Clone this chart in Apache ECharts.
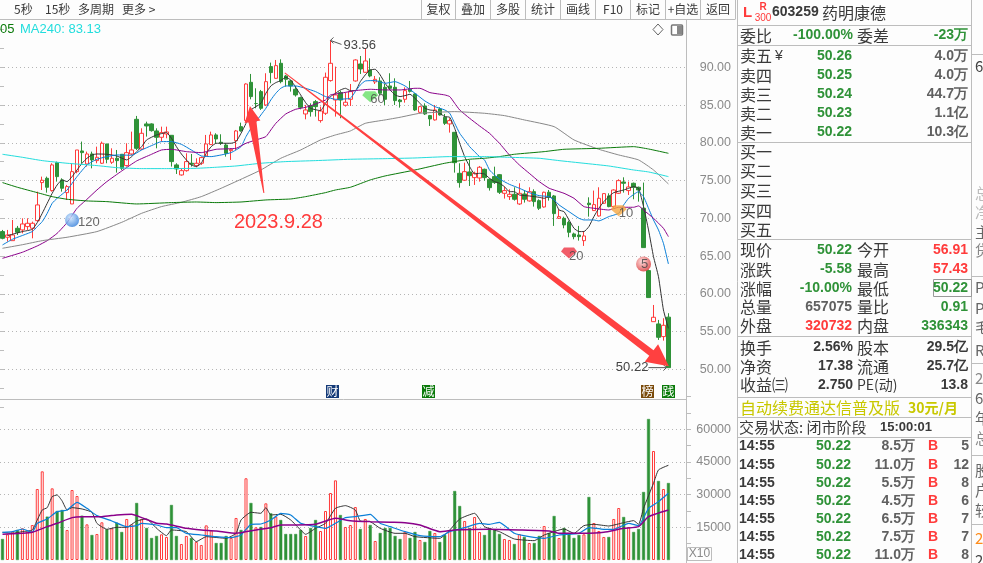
<!DOCTYPE html>
<html>
<head>
<meta charset="utf-8">
<style>
html,body{margin:0;padding:0;background:#fdfdfd;overflow:hidden}
#chart{width:983px;height:563px}
</style>
<script src="https://cdn.jsdelivr.net/npm/echarts@6/dist/echarts.min.js"></script>
</head>
<body>
<div id="chart"></div>
<script>
// K线 [open, close, low, high]
var candles = [
[68.24,67.35,67.22,68.46],[67.49,67.79,66.91,68.46],[67.04,67.79,67.04,69.78],[68.68,68.15,67.79,68.99],[68.46,69.25,68.01,70.0],
[68.90,69.34,68.46,70.0],[68.68,69.34,67.35,69.56],[69.69,71.77,69.56,73.53],[74.73,75.04,73.75,75.52],[75.30,74.11,73.40,75.52],
[73.67,77.07,73.53,77.29],[77.37,75.52,74.86,77.51],[75.08,73.98,73.53,75.30],[73.40,74.20,72.43,74.42],[71.90,76.18,71.90,77.29],
[76.18,79.05,75.96,79.05],[78.92,78.70,77.29,80.16],[77.20,78.52,76.85,78.83],[78.52,77.73,76.62,78.83],[77.64,78.08,77.29,79.49],
[77.29,79.94,77.20,80.16],[79.85,77.82,77.29,79.85],[77.42,77.95,77.20,79.27],[77.95,77.64,76.05,79.05],[78.48,76.62,76.40,78.48],
[76.98,78.70,76.85,79.94],[78.52,79.05,78.39,81.48],[83.11,79.27,79.05,83.56],[79.18,81.26,79.05,81.92],[82.50,82.23,80.82,82.80],
[82.50,81.61,81.48,82.58],[81.57,80.73,79.27,81.92],[80.73,81.35,80.16,82.14],[81.17,81.44,80.60,82.14],[80.99,77.51,76.85,80.99],
[77.07,76.54,75.87,77.29],[75.74,76.31,75.65,76.62],[76.31,77.51,76.18,78.61],[77.29,77.16,76.85,78.52],[76.98,77.29,76.75,77.95],
[77.29,78.04,77.07,78.17],[78.26,79.85,78.17,81.04],[79.76,81.04,79.71,81.48],[81.04,80.51,79.94,81.26],[80.07,79.94,79.71,81.13],
[79.71,78.61,78.17,79.94],[78.96,79.14,77.73,79.27],[80.29,81.57,79.05,81.70],[82.14,81.57,81.48,82.67],[82.94,87.79,82.80,87.88],
[88.01,86.12,85.76,89.12],[85.20,85.20,84.57,87.22],[86.78,84.57,84.35,87.0],[85.01,88.10,84.88,89.21],[90.09,89.30,87.88,90.62],
[88.54,90.22,88.46,90.97],[90.53,88.10,87.88,91.06],[88.85,88.41,87.44,88.99],[88.19,87.53,86.78,88.32],[87.09,86.34,86.12,87.53],
[85.98,84.70,84.44,86.12],[83.82,84.35,83.11,85.01],[84.92,84.13,83.47,85.23],[85.45,84.79,83.47,85.67],[82.94,84.22,82.67,84.79],
[83.91,88.68,83.69,89.30],[88.24,90.53,88.10,93.56],[85.67,86.34,83.47,90.09],[86.65,85.67,83.25,86.91],[84.97,85.37,84.79,86.65],
[85.76,86.78,84.88,87.79],[88.19,90.97,88.10,91.06],[90.44,89.78,89.12,91.50],[89.34,90.84,89.30,92.52],[89.65,88.85,88.68,91.19],
[88.06,88.41,87.79,88.85],[88.19,86.56,86.34,88.68],[87.35,85.76,85.01,87.79],[87.53,87.22,87.0,89.21],[87.35,85.59,85.01,88.54],
[85.67,85.45,84.66,85.81],[85.76,86.91,85.32,87.35],[87.09,86.82,86.65,88.19],[86.47,84.35,84.22,86.56],[84.04,84.79,83.91,84.88],
[84.88,83.82,83.69,85.23],[83.60,83.16,82.23,83.69],[83.03,84.35,82.94,85.01],[84.48,83.69,83.60,84.70],[83.38,82.58,82.36,83.82],
[82.50,82.94,81.35,83.25],[81.39,77.37,76.05,81.39],[75.96,74.73,74.06,77.29],[75.04,76.18,74.95,77.37],[76.14,75.65,74.28,77.73],
[75.39,75.96,74.42,76.18],[75.34,76.76,74.86,76.93],[76.49,75.39,74.99,76.58],[75.17,74.06,73.67,75.26],[75.52,74.73,74.55,76.84],
[75.78,73.45,73.22,75.87],[73.31,73.67,72.61,74.20],[72.87,73.18,72.43,73.84],[73.18,72.52,72.34,74.11],[71.90,73.31,71.77,74.64],
[73.22,72.52,72.08,73.75],[72.30,73.53,72.21,74.11],[73.53,72.21,71.55,73.84],[72.34,71.33,71.10,72.52],[71.50,73.45,71.41,73.53],
[73.45,72.78,72.34,73.75],[72.96,70.62,68.99,73.09],[70.0,70.22,69.91,71.19],[70.0,69.12,68.68,70.22],[69.47,68.15,67.49,69.69],
[67.93,67.57,67.22,68.10],[67.79,67.57,67.04,68.99],[67.04,67.66,66.34,68.32],[72.0,71.81,70.22,72.78],[71.02,71.81,70.97,73.67],
[70.31,72.65,70.22,74.11],[71.99,73.27,71.90,73.31],[72.96,71.55,71.46,73.31],[71.55,73.75,71.33,73.84],[73.31,74.99,73.22,75.17],
[74.81,74.64,73.40,75.43],[73.67,74.15,73.09,74.86],[74.64,74.11,72.52,74.73],[74.11,73.75,72.21,74.20],[71.33,66.12,66.12,74.73],
[63.07,59.50,59.50,63.20],[56.31,56.89,56.31,58.52],[56.01,54.24,53.89,56.54],[54.33,55.83,53.80,56.76],[56.91,50.22,50.22,57.43]
];

// 成交量
var volumes = [
9640,11780,13000,13770,14530,13000,16050,32570,40670,19890,
32870,22480,22940,13770,32110,29360,20340,16360,11470,11930,
17290,14080,14530,17130,12850,18820,16360,26160,18820,14690,
10100,11020,11780,10560,25250,11020,7340,11020,10100,8260,
6890,15900,13620,7800,7800,11020,10100,19280,13770,37490,
26160,15000,15140,25990,21400,19880,18350,11930,11930,11930,
13770,11020,14690,18350,13300,22480,30730,36540,20640,15140,
16050,24310,14220,18820,16050,8720,12390,14690,14690,11020,
9640,13000,10100,12850,9180,8260,13300,12390,8260,11470,
13300,31650,24770,17900,14690,19730,12850,11470,14690,13770,
11930,9640,9180,7340,11930,10560,7800,7800,11020,15600,
12390,20190,10100,14690,12390,10100,11470,11780,28900,16970,
13300,10560,10560,18820,23850,19730,15140,12850,14220,31190,
64680,50000,36240,32570,35320
];

// 均线读点 [第几根K线, 价格]
var ma5 = [[1,67.71],[4,68.24],[6,68.54],[7,69.43],[8,70.66],[9,71.99],[10,73.31],[11,74.42],[12,75.08],[13,74.86],[14,75.52],[15,76.40],[16,77.29],[17,77.95],[18,78.39],[19,78.52],[21,78.48],[23,78.26],[25,77.73],[26,78.17],[27,78.83],[28,79.49],[29,80.38],[31,81.04],[33,81.35],[34,80.60],[35,79.49],[36,78.52],[37,77.73],[38,77.07],[39,76.85],[40,77.29],[41,78.61],[42,79.49],[43,79.94],[46,79.94],[47,80.16],[48,81.26],[49,82.58],[50,84.35],[51,84.79],[52,85.23],[53,86.56],[54,87.53],[55,87.97],[56,88.24],[57,88.68],[58,88.32],[59,87.35],[60,86.34],[61,85.32],[62,84.57],[64,84.26],[65,85.23],[66,86.12],[67,86.56],[68,87.0],[69,87.22],[70,86.91],[71,86.91],[72,88.10],[73,88.99],[74,89.65],[75,89.74],[76,88.99],[77,87.88],[78,87.0],[79,86.34],[80,86.12],[81,86.25],[82,86.43],[83,85.90],[84,85.23],[85,84.57],[86,84.35],[87,84.26],[88,83.91],[89,83.47],[90,83.38],[91,81.92],[92,79.94],[93,78.17],[94,76.85],[95,75.87],[96,75.96],[97,75.87],[98,75.30],[99,74.86],[100,74.64],[101,74.20],[102,73.53],[103,73.53],[104,73.09],[106,72.96],[108,72.78],[109,72.65],[110,72.87],[111,72.43],[112,71.10],[113,70.88],[114,69.78],[115,68.68],[116,68.24],[117,68.24],[118,68.90],[119,70.22],[120,71.33],[121,72.21],[122,72.87],[123,73.40],[125,73.75],[126,73.97],[127,74.20],[128,73.97],[129,71.55],[130,68.46],[131,64.92],[132,62.27],[133,57.86],[134,55.43]];
var ma10 = [[0,66.47],[2,67.22],[6,68.24],[7,68.90],[8,69.56],[9,70.66],[10,71.99],[11,72.65],[13,73.75],[15,75.52],[17,77.07],[19,77.82],[21,78.17],[23,78.39],[26,78.35],[28,79.05],[30,79.63],[32,80.16],[34,80.16],[36,79.80],[38,79.05],[40,78.26],[42,78.17],[44,78.39],[46,78.70],[48,79.49],[49,80.82],[50,81.92],[51,82.80],[52,83.69],[53,84.57],[54,85.68],[55,86.56],[56,87.22],[57,87.53],[59,87.53],[61,87.22],[63,86.78],[65,86.12],[67,85.76],[70,85.90],[71,86.78],[72,87.66],[73,88.19],[75,88.24],[77,87.88],[79,88.10],[81,87.53],[83,86.56],[85,85.54],[87,84.79],[89,84.35],[90,83.91],[91,82.58],[92,81.26],[93,80.38],[94,79.49],[96,78.17],[97,77.73],[98,76.40],[99,75.74],[100,75.21],[102,74.50],[104,73.98],[106,73.40],[108,73.00],[110,72.87],[111,72.43],[112,71.77],[114,70.88],[116,70.0],[117,69.78],[119,69.78],[120,69.65],[122,70.22],[124,70.66],[125,71.77],[126,72.65],[128,73.53],[129,72.87],[130,71.33],[131,69.78],[132,68.46],[133,66.69],[134,63.95]];
var ma20 = [[0,64.70],[4,65.50],[7,66.34],[9,67.04],[11,68.01],[13,69.43],[15,71.33],[17,72.52],[19,73.75],[21,74.86],[24,76.27],[27,77.60],[30,78.48],[32,79.05],[34,79.14],[37,78.83],[40,78.70],[43,79.14],[47,79.27],[49,79.94],[51,80.38],[53,80.82],[54,81.70],[55,82.58],[57,83.82],[59,84.44],[61,84.70],[63,85.14],[65,85.67],[66,86.34],[68,86.56],[71,86.91],[74,87.09],[77,87.0],[80,87.0],[83,87.22],[84,87.22],[86,86.65],[89,86.34],[90,86.12],[91,85.23],[92,84.35],[94,83.25],[96,82.23],[98,81.26],[100,79.94],[102,78.39],[104,77.07],[106,75.96],[108,74.86],[110,73.98],[113,73.31],[115,72.65],[117,71.55],[119,71.33],[122,71.10],[124,71.46],[127,71.46],[128,71.64],[129,71.10],[131,70.0],[133,68.68],[134,67.57]];
var ma60 = [[0,66.03],[4,66.50],[8,67.04],[13,67.49],[19,68.24],[24,69.47],[28,70.66],[32,71.55],[36,72.12],[40,72.87],[44,73.98],[48,75.17],[52,76.40],[56,77.95],[60,79.05],[64,80.38],[67,81.04],[70,81.57],[73,82.58],[77,83.03],[80,83.38],[84,83.91],[91,84.13],[97,83.91],[101,83.60],[105,83.03],[111,82.14],[115,80.38],[120,79.14],[124,78.39],[128,77.73],[131,76.40],[134,74.55]];
var ma120 = [[0,74.73],[3,74.11],[7,73.40],[10,72.87],[13,72.52],[17,72.30],[21,72.21],[27,71.90],[34,72.08],[39,72.16],[43,72.08],[48,72.16],[53,72.43],[58,72.56],[61,72.87],[65,73.40],[67,73.75],[70,74.11],[74,75.08],[77,75.61],[83,76.40],[89,77.29],[94,77.82],[97,77.95],[100,78.17],[103,78.48],[109,78.83],[113,79.14],[120,79.27],[127,79.49],[130,79.18],[134,78.61]];
var ma240 = [[0,78.48],[4,78.08],[8,77.64],[13,77.29],[19,76.98],[23,76.71],[28,76.58],[33,76.58],[39,76.62],[43,76.76],[47,76.93],[52,77.29],[57,77.51],[63,77.64],[70,77.82],[77,77.90],[83,77.99],[90,78.17],[97,78.17],[102,78.08],[108,77.95],[112,77.64],[117,77.29],[122,76.93],[127,76.40],[130,76.14],[134,75.52]];

// 量均线
var vol5 = [[0,12700],[2,12240],[4,13000],[6,13770],[7,18360],[8,22950],[9,24020],[10,29070],[11,29835],[12,27080],[13,22950],[14,24020],[16,23410],[18,21880],[19,16830],[21,14080],[23,14990],[25,14990],[27,17900],[29,18820],[31,14535],[33,11170],[34,13770],[37,13000],[39,8415],[41,10710],[45,9945],[47,12240],[48,18360],[50,21880],[52,21420],[53,24020],[54,20655],[56,20960],[58,18360],[60,13770],[61,11780],[63,14535],[65,16830],[67,23715],[69,24940],[71,22950],[72,17900],[74,17600],[76,14535],[79,12240],[81,12240],[83,10710],[88,9945],[90,13770],[92,18820],[95,21420],[97,15300],[100,13000],[103,9640],[107,8870],[109,11470],[113,14230],[115,12240],[117,15760],[119,16370],[122,15600],[125,17140],[127,18050],[128,16370],[129,23715],[131,35190],[132,41310],[134,43450]];
var vol10 = [[0,12700],[2,13000],[4,14230],[6,12700],[7,16830],[9,18820],[11,22190],[13,22950],[15,26470],[17,23715],[19,20350],[22,17900],[25,15300],[27,15760],[28,16830],[31,16070],[33,14840],[35,14840],[37,12240],[40,11475],[43,10710],[46,10250],[48,11475],[50,16370],[52,16520],[54,18360],[56,21420],[58,20655],[60,16830],[62,15760],[65,14535],[67,16830],[69,19430],[71,19890],[74,20960],[76,16830],[78,15300],[81,13000],[84,11170],[88,10710],[90,13000],[93,14840],[96,16830],[98,16370],[100,17290],[103,12240],[106,10710],[109,9945],[112,11475],[116,12240],[118,14840],[121,14080],[123,14080],[126,16830],[128,15760],[130,23715],[132,26775],[134,30600]];
var vol20 = [[0,11780],[4,12240],[6,12700],[9,15300],[11,16830],[14,19430],[16,19890],[20,19890],[23,20655],[26,20960],[28,19430],[31,16830],[33,16520],[37,14535],[40,13770],[43,13310],[47,12240],[51,13770],[54,14840],[56,16070],[59,16070],[63,16370],[67,19125],[70,18050],[74,17600],[78,17290],[81,17140],[84,16070],[88,13000],[91,13770],[98,14080],[104,13770],[110,13310],[112,12240],[117,12240],[121,12700],[125,14535],[128,15300],[130,19890],[134,22950]];

var priceTickLabels = ['50.00','55.00','60.00','65.00','70.00','75.00','80.00','85.00','90.00'];
var volTickLabels = ['15000','30000','45000','60000'];

// 图上标记
var markerPoints = [[13,69.77],[73,86.1],[123,71.0],[113,65.4],[128,63.95]];
var markerLabels = ['120','60','10','20','5'];
var calloutPoints = [[65,93.56],[133,50.22]];
var arrowTails = [[53.1,73.35],[57.3,89.25]];
var arrowTips = [[50.3,84.87],[134.6,50.4]];
var arrowNote = '2023.9.28';

// 右侧盘口
var askRows = [['卖五','50.26','4.0万'],['卖四','50.25','4.0万'],['卖三','50.24','44.7万'],['卖二','50.23','1.1亿'],['卖一','50.22','10.3亿']];
var bidRows = ['买一','买二','买三','买四','买五'];
var quoteRows = [
  ['现价','50.22','今开','56.91','#2f9238','#ff3b3b'],
  ['涨跌','-5.58','最高','57.43','#2f9238','#ff3b3b'],
  ['涨幅','-10.00%','最低','50.22','#2f9238','#2f9238'],
  ['总量','657075','量比','0.91','#606060','#2f9238'],
  ['外盘','320732','内盘','336343','#ff3b3b','#2f9238']
];
var baseRows = [['换手','2.56%','股本','29.5亿'],['净资','17.38','流通','25.7亿'],['收益㈢','2.750','PE(动)','13.8']];
var tradeRows = [['14:55','50.22','8.5万','5'],['14:55','50.22','11.0万','12'],['14:55','50.22','5.5万','8'],['14:55','50.22','4.5万','6'],['14:55','50.22','6.5万','7'],['14:55','50.22','7.5万','7'],['14:55','50.22','11.0万','8']];
var toolButtons = ['复权','叠加','多股','统计','画线','F10','标记','+自选','返回'];

var RED = '#ff3b3b', GREEN = '#2f9238', GRAY = '#8a8a8a', INK = '#3a3a3a', LINE = '#bdbdbd', BG = '#fdfdfd';
var CJK = '"Noto Sans CJK SC"', NUM = '"Liberation Sans"';

var categories = [];
for (var c = 0; c < candles.length + 3; c++) categories.push(String(c));

var upFlags = candles.map(function(d){ return d[1] >= d[0]; });
var volData = volumes.map(function(v, i){
  return {
    value: v,
    itemStyle: upFlags[i] ? {color: BG, borderColor: RED, borderWidth: 1} : {color: GREEN, borderColor: GREEN, borderWidth: 0.5}
  };
});

function maSeries(name, data, color, pane, width){
  return {
    name: name, type: 'line', data: data, xAxisIndex: pane, yAxisIndex: pane,
    showSymbol: false, smooth: 0.15, silent: true, clip: false, z: 5,
    lineStyle: {color: color, width: width || 1}
  };
}

// 画面文字和边框
var gfx = [];
function txt(x, y, s, fill, font, align){
  gfx.push({type: 'text', x: x, y: y, silent: true, z: 20, style: {text: s, fill: fill, font: font, textAlign: align || 'left', textVerticalAlign: 'middle'}});
}
function ln(x1, y1, x2, y2, color){
  gfx.push({type: 'line', silent: true, z: 19, shape: {x1: x1, y1: y1, x2: x2, y2: y2}, style: {stroke: color || LINE, lineWidth: 1}});
}

var F16 = '16px ' + CJK, B14 = 'bold 14px ' + NUM, F12 = '12px ' + CJK;

// 顶部工具条
ln(0, 19.5, 735, 19.5);
txt(14, 9, '5秒', INK, F12); txt(45, 9, '15秒', INK, F12); txt(78, 9, '多周期', INK, F12); txt(122, 9, '更多 >', INK, F12);
var btnX = [421.5, 455.5, 490.5, 525.5, 560.5, 595.5, 630.5, 665.5, 700.5, 735.5];
btnX.forEach(function(x){ ln(x, 0, x, 19.5); });
toolButtons.forEach(function(b, i){ txt((btnX[i] + btnX[i + 1]) / 2, 9, b, INK, F12, 'center'); });

// 均线图例
txt(0, 29, '05', '#0a7a0a', '13px ' + NUM);
txt(20, 29, 'MA240: 83.13', '#22dddd', '13px ' + NUM);
gfx.push({type: 'polygon', silent: true, z: 20, shape: {points: [[658, 24], [663, 29.5], [658, 35], [653, 29.5]]}, style: {fill: 'none', stroke: '#666', lineWidth: 1}});
gfx.push({type: 'rect', silent: true, z: 20, shape: {x: 671.5, y: 25, width: 11, height: 10, r: 1}, style: {fill: '#fff', stroke: '#777', lineWidth: 1.5}});
gfx.push({type: 'rect', silent: true, z: 20, shape: {x: 677, y: 26, width: 5, height: 8}, style: {fill: '#888'}});

// 主图和量图边框
ln(0, 399.5, 687, 399.5);
ln(686.5, 19.5, 686.5, 563);
ln(737.5, 0, 737.5, 563);
ln(971.5, 0, 971.5, 563);
gfx.push({type: 'rect', silent: true, z: 20, shape: {x: 687.5, y: 547.5, width: 24, height: 13}, style: {fill: 'none', stroke: LINE, lineWidth: 1}});
txt(699.5, 554, 'X10', GRAY, '12px ' + NUM, 'center');

// 底部角标
[[326, '财', '#143a78'], [422, '减', '#0a7a0a'], [641, '榜', '#7a4a0a'], [662, '践', '#0a7a0a']].forEach(function(b){
  gfx.push({type: 'rect', silent: true, z: 20, shape: {x: b[0], y: 385, width: 13, height: 13}, style: {fill: b[2]}});
  txt(b[0] + 6.5, 391.5, b[1], '#fff', '12px ' + CJK, 'center');
});

// 日期批注
txt(234, 222, arrowNote, RED, '20px ' + NUM);

// 右侧标题
[25.5, 45.5, 142.5, 239.5, 336.5, 397.5, 417.5, 437.5].forEach(function(y){ ln(737.5, y, 971.5, y); });
txt(743, 13, 'L', RED, 'bold 15px ' + NUM);
txt(763, 7, 'R', RED, 'bold 10px ' + NUM, 'center');
txt(763, 18, '300', RED, '10px ' + NUM, 'center');
txt(772, 12.5, '603259', INK, B14);
txt(822, 12.5, '药明康德', INK, F16);
txt(740, 35.5, '委比', INK, F16);
txt(853, 35.5, '-100.00%', GREEN, B14, 'right');
txt(857, 35.5, '委差', INK, F16);
txt(968, 35.5, '-23万', GREEN, B14, 'right');

// 卖盘买盘
var askY = [56, 75.5, 94.5, 113.5, 132.5], bidY = [152, 171, 190.5, 210.5, 230];
askRows.forEach(function(r, i){
  txt(740, askY[i], r[0], INK, F16);
  txt(852, askY[i], r[1], GREEN, B14, 'right');
  txt(968, askY[i], r[2], '#606060', B14, 'right');
});
txt(775, 56, '¥', INK, '14px ' + NUM);
bidRows.forEach(function(r, i){ txt(740, bidY[i], r, INK, F16); });

// 报价区
var quoteY = [250, 269.5, 288.5, 307, 326];
quoteRows.forEach(function(r, i){
  txt(740, quoteY[i], r[0], INK, F16);
  txt(852, quoteY[i], r[1], r[4], B14, 'right');
  txt(857, quoteY[i], r[2], INK, F16);
  txt(968, quoteY[i], r[3], r[5], B14, 'right');
});
gfx.push({type: 'rect', silent: true, z: 19, shape: {x: 933.5, y: 279.5, width: 38, height: 17}, style: {fill: 'none', stroke: '#999', lineWidth: 1}});
var baseY = [347.5, 366.5, 385];
baseRows.forEach(function(r, i){
  txt(740, baseY[i], r[0], INK, F16);
  txt(853, baseY[i], r[1], INK, B14, 'right');
  txt(857, baseY[i], r[2], INK, i == 2 ? '14px ' + CJK : F16);
  txt(968, baseY[i], r[3], INK, B14, 'right');
});
txt(740, 407.5, '自动续费通达信普及版', '#c8c800', F16);
txt(908, 407.5, '30元/月', '#c8c800', 'bold 14px ' + CJK);
txt(739, 427.5, '交易状态: 闭市阶段', INK, '15px ' + CJK);
txt(880, 427.5, '15:00:01', INK, 'bold 13px ' + NUM);

// 逐笔
var tradeY = [446.5, 465, 483, 501, 519, 537, 555];
tradeRows.forEach(function(r, i){
  txt(739, tradeY[i], r[0], INK, B14);
  txt(851, tradeY[i], r[1], GREEN, B14, 'right');
  txt(915, tradeY[i], r[2], '#606060', B14, 'right');
  txt(933, tradeY[i], 'B', RED, B14, 'center');
  txt(969, tradeY[i], r[3], '#606060', B14, 'right');
});

// 最右边被截掉的一列
[[66, '6', '#444'], [193, '总', '#bbb'], [212, '净', '#bbb'], [232, '主', '#666'], [250, '贷', '#888'], [287, 'P', '#666'], [308, 'P', '#666'], [327, '毛', '#666'], [350, 'R', '#666'], [378, '2', '#888'], [398, '6', '#666'], [418, '年', '#666'], [438, '总', '#888'], [470, '股', '#666'], [490, '户', '#666'], [510, '较', '#666'], [538, '2', '#ff8c1a'], [560, '2', '#444']].forEach(function(r){
  txt(975, r[0], r[1], r[2], '15px ' + CJK);
});
[54.5, 276.5, 363.5, 455.5, 524.5].forEach(function(y){ ln(971.5, y, 983, y); });

function gemPath(){ return 'path://M3 0 L13 0 L16 4 L8 11 L0 4 Z'; }
var markerLook = [
  {symbol: 'circle', size: 14, color: {type: 'radial', x: 0.4, y: 0.35, r: 0.7, colorStops: [{offset: 0, color: '#cfe6ff'}, {offset: 1, color: '#2a78d8'}]}, pos: [13, 3]},
  {symbol: gemPath(), size: [16, 11], color: '#66e066', pos: [8, 2]},
  {symbol: gemPath(), size: [16, 11], color: '#f5a742', pos: [8, 2]},
  {symbol: gemPath(), size: [16, 11], color: '#ee3344', pos: [8, 2]},
  {symbol: 'circle', size: 15, color: {type: 'radial', x: 0.4, y: 0.35, r: 0.7, colorStops: [{offset: 0, color: '#ffd5d5'}, {offset: 1, color: '#d82a2a'}]}, pos: [5, 1]}
];
var markerData = markerPoints.map(function(p, i){
  var k = markerLook[i];
  return {
    value: [p[0] + 1, p[1]], symbol: k.symbol, symbolSize: k.size,
    itemStyle: {color: k.color},
    label: {show: true, formatter: markerLabels[i], position: k.pos, color: '#444', fontSize: 13, fontFamily: 'Liberation Sans'}
  };
});

var arrowLook = [
  {head: 16, shaft: 4, wing: 8},
  {head: 22, shaft: 3.5, wing: 11}
];

var option = {
  animation: false,
  backgroundColor: BG,
  graphic: {elements: gfx},
  grid: [
    {left: -2.8, top: 29.55, width: 688.6, height: 377.5, show: false},
    {left: -2.8, top: 396.5, width: 688.6, height: 163.5, show: false}
  ],
  xAxis: [
    {type: 'category', gridIndex: 0, data: categories, show: false},
    {type: 'category', gridIndex: 1, data: categories, show: false},
    // 批注箭头用，单位是K线根数
    {type: 'value', gridIndex: 0, min: 0, max: categories.length, show: false}
  ],
  yAxis: [
    {
      type: 'value', gridIndex: 0, min: 45, max: 95, interval: 5, position: 'right', offset: 1.2,
      axisLine: {show: false},
      axisTick: {show: true, length: 4, lineStyle: {color: LINE}},
      minorTick: {show: true, splitNumber: 2, length: 4, lineStyle: {color: LINE}},
      splitLine: {show: true, showMinLine: false, showMaxLine: false, lineStyle: {color: '#b5b5b5', type: [1, 3]}},
      axisLabel: {
        align: 'right', margin: 44, color: GRAY, fontSize: 12.5, fontFamily: 'Liberation Sans',
        formatter: function(v){ var s = v.toFixed(2); return priceTickLabels.indexOf(s) >= 0 ? s : ''; }
      }
    },
    {
      type: 'value', gridIndex: 1, min: 0, max: 75000, interval: 15000, position: 'right', offset: 1.2,
      axisLine: {show: false},
      axisTick: {show: true, length: 4, lineStyle: {color: LINE}},
      minorTick: {show: true, splitNumber: 2, length: 4, lineStyle: {color: LINE}},
      splitLine: {show: true, showMinLine: false, showMaxLine: false, lineStyle: {color: '#b5b5b5', type: [1, 3]}},
      axisLabel: {
        align: 'right', margin: 44, color: GRAY, fontSize: 12.5, fontFamily: 'Liberation Sans',
        formatter: function(v){ var s = String(v); return volTickLabels.indexOf(s) >= 0 ? s : ''; }
      }
    }
  ],
  series: [
    {
      name: 'K', type: 'candlestick', data: candles, xAxisIndex: 0, yAxisIndex: 0, barWidth: 4, silent: true, z: 3,
      itemStyle: {color: BG, color0: GREEN, borderColor: RED, borderColor0: GREEN, borderWidth: 1}
    },
    maSeries('MA5', ma5, '#333333', 0),
    maSeries('MA10', ma10, '#0a7fd8', 0),
    maSeries('MA20', ma20, '#8a008a', 0),
    maSeries('MA60', ma60, '#888888', 0),
    maSeries('MA120', ma120, '#0a7a0a', 0),
    maSeries('MA240', ma240, '#22dddd', 0),
    {
      name: 'VOL', type: 'bar', data: volData, xAxisIndex: 1, yAxisIndex: 1, barWidth: 3, silent: true, z: 3
    },
    maSeries('V5', vol5, '#333333', 1),
    maSeries('V10', vol10, '#0a7fd8', 1, 1.2),
    maSeries('V20', vol20, '#8a008a', 1, 1.5),
    {
      name: 'marks', type: 'scatter', data: markerData, xAxisIndex: 0, yAxisIndex: 0, silent: true, z: 8
    },
    {
      // 最高最低价的引线
      name: 'callouts', type: 'custom', xAxisIndex: 0, yAxisIndex: 0, silent: true, z: 9, clip: false,
      data: calloutPoints.map(function(p){ return [p[0] + 1, p[1]]; }),
      renderItem: function(params, api){
        var pt = api.coord([api.value(0), api.value(1)]);
        var isHigh = params.dataIndex == 0;
        var lineStyle = {stroke: '#555', lineWidth: 1, fill: 'none'};
        var label = api.value(1).toFixed(2);
        if (isHigh) {
          return {type: 'group', children: [
            {type: 'polyline', shape: {points: [[pt[0] + 3, pt[1] - 3], [pt[0], pt[1]], [pt[0] + 3, pt[1] + 3]]}, style: lineStyle},
            {type: 'line', shape: {x1: pt[0], y1: pt[1], x2: pt[0] + 11, y2: pt[1] + 4}, style: lineStyle},
            {type: 'text', x: pt[0] + 13, y: pt[1] + 5, style: {text: label, fill: '#444', font: '13px ' + NUM, textVerticalAlign: 'middle'}}
          ]};
        }
        return {type: 'group', children: [
          {type: 'line', shape: {x1: pt[0] - 20, y1: pt[1], x2: pt[0] - 2, y2: pt[1]}, style: lineStyle},
          {type: 'polyline', shape: {points: [[pt[0] - 5, pt[1] - 3], [pt[0] - 2, pt[1]], [pt[0] - 5, pt[1] + 3]]}, style: lineStyle},
          {type: 'text', x: pt[0] - 20, y: pt[1], style: {text: label, fill: '#444', font: '13px ' + NUM, textAlign: 'right', textVerticalAlign: 'middle'}}
        ]};
      }
    },
    {
      // 手画的红箭头
      name: 'arrows', type: 'custom', xAxisIndex: 2, yAxisIndex: 0, silent: true, z: 10, clip: false,
      data: arrowTails.map(function(t, i){ return [t[0], t[1], arrowTips[i][0], arrowTips[i][1]]; }),
      encode: {x: [0, 2], y: [1, 3]},
      renderItem: function(params, api){
        var a = api.coord([api.value(0), api.value(1)]);
        var b = api.coord([api.value(2), api.value(3)]);
        var dx = b[0] - a[0], dy = b[1] - a[1], len = Math.sqrt(dx * dx + dy * dy);
        var ux = dx / len, uy = dy / len, nx = -uy, ny = ux;
        var k = arrowLook[params.dataIndex];
        var bx = b[0] - ux * k.head, by = b[1] - uy * k.head;
        return {
          type: 'polygon',
          shape: {points: [
            [a[0] + nx * 0.5, a[1] + ny * 0.5],
            [bx + nx * k.shaft, by + ny * k.shaft],
            [bx + nx * k.wing, by + ny * k.wing],
            [b[0], b[1]],
            [bx - nx * k.wing, by - ny * k.wing],
            [bx - nx * k.shaft, by - ny * k.shaft],
            [a[0] - nx * 0.5, a[1] - ny * 0.5]
          ]},
          style: {fill: '#ff4040'}
        };
      }
    }
  ]
};

var chart = echarts.init(document.getElementById('chart'));
chart.setOption(option);
</script>
</body>
</html>
